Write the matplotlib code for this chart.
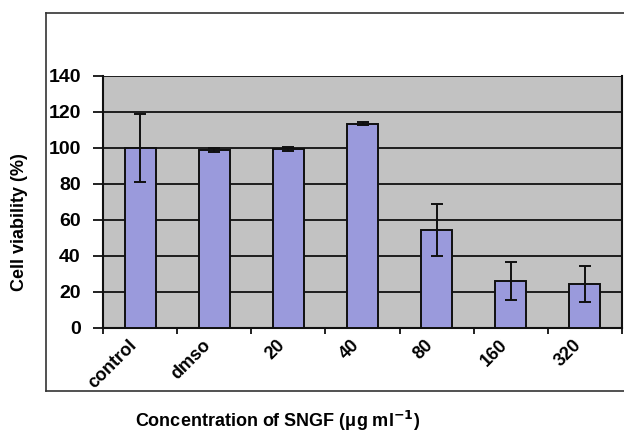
import matplotlib
matplotlib.use("Agg")
import matplotlib.pyplot as plt
import matplotlib.transforms as mtransforms
from matplotlib.lines import Line2D
import numpy as np

plt.rcParams['font.family'] = ['Liberation Sans', 'DejaVu Sans']
plt.rcParams['font.weight'] = 'bold'

# data
groups = ['control', 'dmso', '20', '40', '80', '160', '320']
viability = [100, 99, 99.5, 113.5, 54.5, 26, 24.5]
errors = [19, 1, 1, 0.8, 14.5, 10.5, 10]

W, H = 624, 433
fig = plt.figure(figsize=(W / 100, H / 100), dpi=100)
ax = fig.add_axes([103 / W, 1 - 328 / H, (622 - 103) / W, (328 - 76) / H])

x = np.arange(len(groups))
ax.set_facecolor('#c2c2c2')
ax.bar(x, viability, width=0.42, color='#9a9adc', edgecolor='#101010',
       linewidth=1.4, zorder=3)
ax.errorbar(x, viability, yerr=errors, fmt='none', ecolor='#101010',
            elinewidth=1.4, capsize=4, capthick=1.4, zorder=4)

ax.set_xlim(-0.5, len(groups) - 0.5)
ax.set_ylim(0, 140)
ax.set_yticks(np.arange(0, 141, 20))
ax.yaxis.grid(True, color='#101010', linewidth=1.3, zorder=1)
ax.set_axisbelow(True)
ax.tick_params(axis='y', length=7, width=1.3, color='#101010', labelsize=14, pad=9)

ax.set_xticks(x)
ax.set_xticks(np.arange(-0.5, len(groups)), minor=True)
ax.tick_params(axis='x', which='major', length=0, pad=2)
ax.tick_params(axis='x', which='minor', length=4, width=1.3, color='#101010')
ax.set_xticklabels(groups, rotation=45, ha='right', rotation_mode='anchor',
                   fontsize=13)
offset = mtransforms.ScaledTranslation(-0.12, -0.06, fig.dpi_scale_trans)
for lab in ax.get_xticklabels():
    lab.set_transform(lab.get_transform() + offset)

for side in ['left', 'bottom', 'right']:
    ax.spines[side].set_color('#101010')
    ax.spines[side].set_linewidth(1.5)
ax.spines['top'].set_visible(False)

# outer chart frame
fx0, fy0, fy1 = 46 / W, 1 - 391 / H, 1 - 13 / H
fig.add_artist(Line2D([fx0, fx0], [fy0, fy1], color='#333333', linewidth=1.2))
fig.add_artist(Line2D([fx0, 1], [fy1, fy1], color='#333333', linewidth=1.2))
fig.add_artist(Line2D([fx0, 1], [fy0, fy0], color='#333333', linewidth=1.2))

fig.text(20 / W, 1 - 222 / H, 'Cell viability (%)', rotation=90,
         ha='center', va='center', fontsize=13, fontweight='bold')
fig.text(278 / W, 1 - 421 / H, 'Concentration of SNGF (\u03bcg ml$^{\\mathbf{-1}}$)',
         ha='center', va='center', fontsize=13, fontweight='bold')

fig.savefig('out.png', dpi=100)
